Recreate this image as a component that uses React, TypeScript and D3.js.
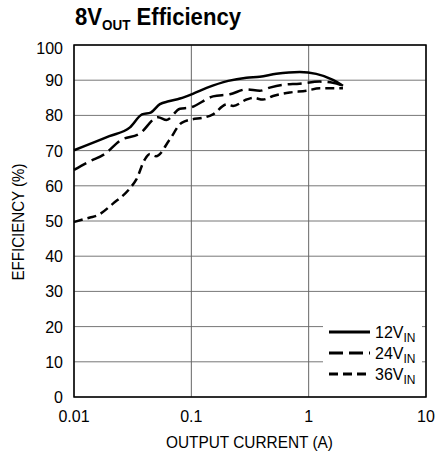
import * as d3 from "d3";

// Output current (A) and efficiency (%)
const current12 = [0.01, 0.02, 0.03, 0.038, 0.045, 0.054, 0.064, 0.08, 0.104, 0.135, 0.206, 0.295, 0.383, 0.53, 0.84, 1.16, 1.61, 1.96];
const eff12 = [70.1, 74.1, 76.6, 80.3, 80.8, 83.2, 84.0, 84.8, 86.2, 87.8, 89.8, 90.7, 91.0, 91.8, 92.3, 91.8, 90.1, 88.4];

const current24 = [0.01, 0.0137, 0.0184, 0.0246, 0.0365, 0.052, 0.0615, 0.08, 0.097, 0.153, 0.213, 0.295, 0.383, 0.466, 0.604, 0.838, 1.24, 1.61, 1.96];
const eff24 = [64.5, 67.0, 69.1, 72.8, 74.9, 79.5, 78.7, 81.9, 82.2, 85.4, 86.0, 87.4, 87.0, 87.9, 88.7, 89.0, 89.6, 89.3, 88.4];

const current36 = [0.01, 0.0137, 0.0156, 0.0216, 0.03, 0.034, 0.04, 0.0443, 0.05, 0.0656, 0.0826, 0.153, 0.2, 0.227, 0.295, 0.336, 0.408, 0.497, 0.689, 0.956, 1.24, 1.96];
const eff36 = [49.7, 51.0, 51.5, 55.0, 59.3, 61.8, 67.4, 69.0, 68.4, 73.2, 77.9, 80.3, 83.1, 82.7, 84.5, 85.0, 84.5, 85.5, 86.5, 87.0, 87.7, 87.7];

const xTicks = [0.01, 0.1, 1, 10];
const xTickLabels = ["0.01", "0.1", "1", "10"];
const yTicks = [0, 10, 20, 30, 40, 50, 60, 70, 80, 90, 100];

const seriesNames = ["12V", "24V", "36V"];
const dashes = ["none", "14,6", "9,5"];

const W = 435;
const H = 460;
const left = 74;
const top = 45;
const right = 426;
const bottom = 397;
const font = "'Liberation Sans', Arial, sans-serif";

export default function App() {
  const x = d3.scaleLog().domain([0.01, 10]).range([left, right]);
  const y = d3.scaleLinear().domain([0, 100]).range([bottom, top]);

  const line = d3
    .line<[number, number]>()
    .x((d) => x(d[0]))
    .y((d) => y(d[1]))
    .curve(d3.curveMonotoneX);

  const series = [
    d3.zip(current12, eff12) as [number, number][],
    d3.zip(current24, eff24) as [number, number][],
    d3.zip(current36, eff36) as [number, number][],
  ];

  const legendX = 329;
  const legendY = [332, 353, 374];

  return (
    <svg
      width={W}
      height={H}
      style={{ position: "absolute", left: 0, top: 0, background: "#fff" }}
      fontFamily={font}
    >
      <rect width={W} height={H} fill="#fff" />

      {/* title */}
      <text x={75} y={25} fontSize={23} fontWeight="bold" textLength={166} lengthAdjust="spacingAndGlyphs">
        8V
        <tspan fontSize={14} dy={5}>OUT</tspan>
        <tspan dy={-5}> Efficiency</tspan>
      </text>

      {/* grid */}
      {yTicks.map((t) => (
        <line key={"gy" + t} x1={left} x2={right} y1={y(t)} y2={y(t)} stroke="#777" strokeWidth={1} />
      ))}
      {xTicks.map((t) => (
        <line key={"gx" + t} x1={x(t)} x2={x(t)} y1={top} y2={bottom} stroke="#666" strokeWidth={1} />
      ))}

      {/* curves */}
      {series.map((s, i) => (
        <path
          key={"s" + i}
          d={line(s) ?? ""}
          fill="none"
          stroke="#000"
          strokeWidth={2.5}
          strokeDasharray={dashes[i]}
        />
      ))}

      {/* legend */}
      <rect x={323} y={321} width={99} height={65} fill="#fff" />
      {seriesNames.map((n, i) => (
        <g key={"l" + n}>
          <line
            x1={legendX}
            x2={370}
            y1={legendY[i]}
            y2={legendY[i]}
            stroke="#000"
            strokeWidth={3}
            strokeDasharray={dashes[i]}
          />
          <text x={375} y={legendY[i] + 6} fontSize={16}>
            {n}
            <tspan fontSize={12} dy={4}>IN</tspan>
          </text>
        </g>
      ))}

      {/* frame */}
      <rect x={left} y={top} width={right - left} height={bottom - top} fill="none" stroke="#000" strokeWidth={1.5} />

      {/* y tick labels */}
      {yTicks.map((t) => (
        <text key={"ty" + t} x={63} y={y(t) + 6 + (t === 100 ? 3 : 0)} fontSize={16} textAnchor="end">
          {t}
        </text>
      ))}

      {/* x tick labels */}
      {xTicks.map((t, i) => (
        <text key={"tx" + t} x={x(t)} y={422} fontSize={16} textAnchor="middle">
          {xTickLabels[i]}
        </text>
      ))}

      {/* axis titles */}
      <text x={249.5} y={448} fontSize={17} textAnchor="middle" textLength={167} lengthAdjust="spacingAndGlyphs">
        OUTPUT CURRENT (A)
      </text>
      <text
        transform={`translate(24,222) rotate(-90)`}
        fontSize={17}
        textAnchor="middle"
        textLength={117}
        lengthAdjust="spacingAndGlyphs"
      >
        EFFICIENCY (%)
      </text>
    </svg>
  );
}
